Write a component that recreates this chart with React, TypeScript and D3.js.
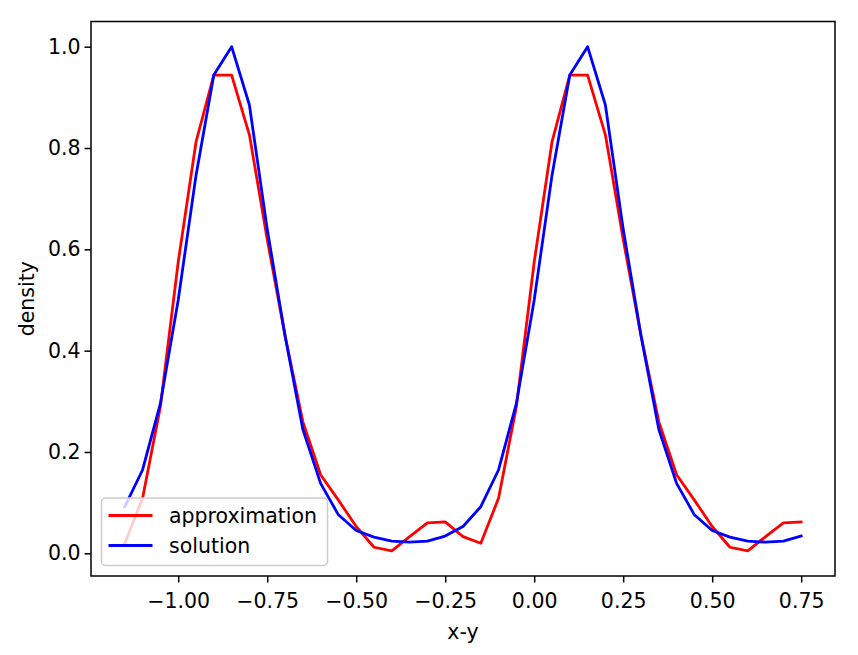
import React, { useRef, useEffect } from "react";
import * as d3 from "d3";

// sample positions x-y
const xValues = [
  -1.15, -1.1, -1.05, -1.0, -0.95, -0.9, -0.85, -0.8, -0.75, -0.7, -0.65, -0.6, -0.55, -0.5, -0.45,
  -0.4, -0.35, -0.3, -0.25, -0.2, -0.15, -0.1, -0.05, 0.0, 0.05, 0.1, 0.15, 0.2, 0.25, 0.3, 0.35,
  0.4, 0.45, 0.5, 0.55, 0.6, 0.65, 0.7, 0.75,
];

const approximation = [
  0.02, 0.109, 0.29, 0.575, 0.812, 0.944, 0.944, 0.826, 0.62, 0.43, 0.26, 0.155, 0.105, 0.053, 0.012,
  0.005, 0.033, 0.06, 0.062, 0.033, 0.02, 0.109, 0.29, 0.575, 0.812, 0.944, 0.944, 0.826, 0.62, 0.43,
  0.26, 0.155, 0.105, 0.053, 0.012, 0.005, 0.033, 0.06, 0.062,
];

const solution = [
  0.092, 0.165, 0.296, 0.5, 0.746, 0.944, 1.0, 0.885, 0.64, 0.43, 0.245, 0.138, 0.076, 0.045, 0.032,
  0.024, 0.022, 0.024, 0.034, 0.053, 0.092, 0.165, 0.296, 0.5, 0.746, 0.944, 1.0, 0.885, 0.64, 0.43,
  0.245, 0.138, 0.076, 0.045, 0.032, 0.024, 0.022, 0.024, 0.034,
];

const xTicks = [-1.0, -0.75, -0.5, -0.25, 0.0, 0.25, 0.5, 0.75];
const yTicks = [0.0, 0.2, 0.4, 0.6, 0.8, 1.0];

const seriesNames = ["approximation", "solution"];
const seriesColors = ["#ff0000", "#0000ff"];

const W = 858;
const H = 655;
const FONT = "'DejaVu Sans', sans-serif";
const FS = 20.5;

const minus = (s: string) => s.replace("-", "\u2212");

const App = () => {
  const svgRef = useRef<SVGSVGElement | null>(null);

  useEffect(() => {
    const margin = { top: 21.5, right: 23, bottom: 79, left: 91 };
    const width = W - margin.left - margin.right;
    const height = H - margin.top - margin.bottom;

    const svgRoot = d3.select(svgRef.current);
    svgRoot.selectAll("*").remove();

    const svg = svgRoot.append("g").attr("transform", `translate(${margin.left}, ${margin.top})`);

    // matplotlib style 5% margins
    const [xMin, xMax] = d3.extent(xValues) as [number, number];
    const xPad = (xMax - xMin) * 0.05;
    const allY = approximation.concat(solution);
    const [yMin, yMax] = d3.extent(allY) as [number, number];
    const yPad = (yMax - yMin) * 0.05;

    const x = d3.scaleLinear().domain([xMin - xPad, xMax + xPad]).range([0, width]);
    const y = d3.scaleLinear().domain([yMin - yPad, yMax + yPad]).range([height, 0]);

    const line = d3
      .line<number>()
      .x((_, i) => x(xValues[i]))
      .y((d) => y(d));

    [approximation, solution].forEach((vals, i) => {
      svg
        .append("path")
        .datum(vals)
        .attr("d", line)
        .attr("fill", "none")
        .attr("stroke", seriesColors[i])
        .attr("stroke-width", 2.8)
        .attr("stroke-linejoin", "round")
        .attr("stroke-linecap", "square");
    });

    // x axis
    const xAxis = svg
      .append("g")
      .attr("transform", `translate(0, ${height})`)
      .call(
        d3
          .axisBottom(x)
          .tickValues(xTicks)
          .tickSize(6.5)
          .tickPadding(11)
          .tickFormat((d) => minus(d3.format(".2f")(d as number)))
      );
    xAxis.select(".domain").remove();
    xAxis.selectAll("line").attr("stroke", "#000").attr("stroke-width", 1.5);
    xAxis.selectAll("text").attr("font-family", FONT).attr("font-size", FS).attr("fill", "#000");

    // y axis
    const yAxis = svg
      .append("g")
      .call(
        d3
          .axisLeft(y)
          .tickValues(yTicks)
          .tickSize(6.5)
          .tickPadding(4)
          .tickFormat((d) => d3.format(".1f")(d as number))
      );
    yAxis.select(".domain").remove();
    yAxis.selectAll("line").attr("stroke", "#000").attr("stroke-width", 1.5);
    yAxis.selectAll("text").attr("font-family", FONT).attr("font-size", FS).attr("fill", "#000");

    // frame
    svg
      .append("rect")
      .attr("width", width)
      .attr("height", height)
      .attr("fill", "none")
      .attr("stroke", "#000")
      .attr("stroke-width", 1.5);

    // axis labels
    svg
      .append("text")
      .attr("x", width / 2)
      .attr("y", height + 63)
      .attr("text-anchor", "middle")
      .attr("font-family", FONT)
      .attr("font-size", FS)
      .text("x-y");

    svg
      .append("text")
      .attr("transform", `translate(${-57}, ${height / 2}) rotate(-90)`)
      .attr("text-anchor", "middle")
      .attr("font-family", FONT)
      .attr("font-size", FS)
      .text("density");

    // legend
    const lg = svg.append("g").attr("transform", `translate(10.5, ${height - 78})`);
    lg.append("rect")
      .attr("width", 226)
      .attr("height", 67.5)
      .attr("rx", 4)
      .attr("fill", "#fff")
      .attr("fill-opacity", 0.8)
      .attr("stroke", "#cccccc")
      .attr("stroke-width", 1.5);

    seriesNames.forEach((name, i) => {
      const ly = 17.5 + i * 30;
      lg.append("line")
        .attr("x1", 7)
        .attr("x2", 51)
        .attr("y1", ly)
        .attr("y2", ly)
        .attr("stroke", seriesColors[i])
        .attr("stroke-width", 2.8);
      lg.append("text")
        .attr("x", 67.5)
        .attr("y", ly)
        .attr("dy", "0.35em")
        .attr("font-family", FONT)
        .attr("font-size", FS)
        .text(name);
    });
  }, []);

  return (
    <div style={{ position: "absolute", left: 0, top: 0, width: W, height: H, background: "#fff" }}>
      <svg ref={svgRef} width={W} height={H} style={{ display: "block" }} />
    </div>
  );
};

export default App;
